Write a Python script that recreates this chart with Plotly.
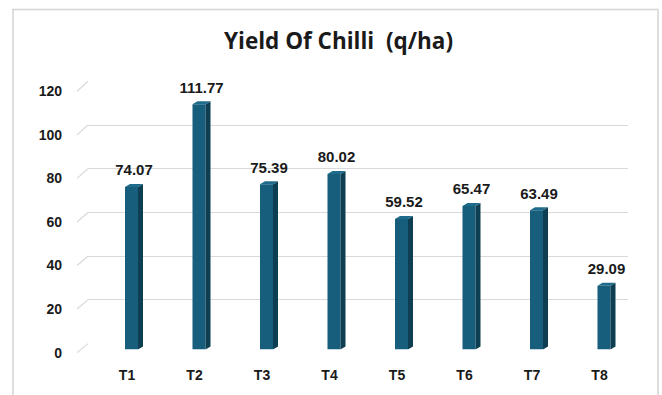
import plotly.graph_objects as go

categories = ["T1", "T2", "T3", "T4", "T5", "T6", "T7", "T8"]
yields = [74.07, 111.77, 75.39, 80.02, 59.52, 65.47, 63.49, 29.09]
y_ticks = [0, 20, 40, 60, 80, 100, 120]
title_text = "Yield Of Chilli  (q/ha)"

W, H = 662, 395
FRONT = "#175d7c"
SIDE = "#0e3e52"
TOP = "#1f6b8b"
GRID = "#d9d9d9"
TXT = "#1a1a1a"

pos = list(range(len(categories)))

x_px0, x_px1 = 88, 628
unit_px = (x_px1 - x_px0) / len(categories)
x_range = [-(127 - x_px0) / unit_px, len(categories) - (127 - x_px0) / unit_px]

# vertical layout helper: target screen pixel -> paper fraction
VS, VO = 0.962, 7.5
def py(t):
    return 1 - ((t - VO) / VS) / H

def ydom(px_zero, px_top):
    return [py(px_zero), py(px_top)]

grid_dom = ydom(344, 81)
bar_dom = ydom(350, 86)
lab_dom = ydom(353, 91)

bar_unit_px = (350 - 86) / 120
face_off = -2 / unit_px
face_w = 13 / unit_px
depth_x = 5 / unit_px
depth_y = 3 / bar_unit_px

fig = go.Figure()

fig.add_trace(go.Scatter(x=pos, y=yields, mode="markers", marker=dict(opacity=0),
                         xaxis="x", yaxis="y", showlegend=False, hoverinfo="skip"))
fig.add_trace(go.Bar(
    x=pos, y=yields, width=face_w, offset=face_off,
    marker=dict(color=FRONT, line=dict(width=0)),
    xaxis="x", yaxis="y2", showlegend=False, hoverinfo="skip",
))
fig.add_trace(go.Scatter(
    x=[p + face_off + face_w / 2 + depth_x / 2 for p in pos], y=yields,
    mode="markers+text", marker=dict(size=11, opacity=0),
    text=[f"{v:.2f}" for v in yields], textposition="top center",
    textfont=dict(family="Liberation Sans", size=15, color=TXT, weight="bold"),
    cliponaxis=False, xaxis="x", yaxis="y2", showlegend=False, hoverinfo="skip",
))
fig.add_trace(go.Scatter(x=pos, y=yields, mode="markers", marker=dict(opacity=0),
                         xaxis="x", yaxis="y3", showlegend=False, hoverinfo="skip"))

shapes = []
for c, v in zip(pos, yields):
    xr = c + face_off + face_w
    xl = c + face_off
    shapes.append(dict(type="path", xref="x", yref="y2", layer="above",
                       path=f"M {xr},0 L {xr+depth_x},{depth_y} L {xr+depth_x},{v+depth_y} L {xr},{v} Z",
                       fillcolor=SIDE, line=dict(width=0)))
    shapes.append(dict(type="path", xref="x", yref="y2", layer="above",
                       path=f"M {xl},{v} L {xl+depth_x},{v+depth_y} L {xr+depth_x},{v+depth_y} L {xr},{v} Z",
                       fillcolor=TOP, line=dict(width=0)))

def dom_y(t, dom):
    return dom[0] + (dom[1] - dom[0]) * t / 120

for t in y_ticks:
    shapes.append(dict(type="line", xref="paper", yref="paper", layer="below",
                       x0=77 / W, y0=dom_y(t, lab_dom),
                       x1=x_px0 / W, y1=dom_y(t, grid_dom),
                       line=dict(color=GRID, width=1.2)))

shapes.append(dict(type="rect", xref="paper", yref="paper",
                   x0=13 / W, x1=658 / W, y0=-0.05, y1=py(9),
                   line=dict(color="#d4d4d4", width=1.5), layer="below"))

fig.update_layout(
    width=W, height=H,
    margin=dict(l=0, r=0, t=0, b=0),
    paper_bgcolor="white", plot_bgcolor="rgba(0,0,0,0)",
    shapes=shapes,
    xaxis=dict(domain=[x_px0 / W, x_px1 / W], range=x_range, anchor="y2",
               tickvals=pos, ticktext=categories, showgrid=False, zeroline=False,
               showline=False, ticks="", ticklabelstandoff=15,
               tickfont=dict(family="Liberation Sans", size=14, color=TXT, weight="bold")),
    yaxis=dict(domain=grid_dom, range=[0, 120], anchor="x",
               tickvals=y_ticks, showgrid=True, gridcolor=GRID, gridwidth=1.2,
               zeroline=False, showticklabels=False, showline=False, ticks=""),
    yaxis2=dict(domain=bar_dom, range=[0, 120], anchor="x", showgrid=False, zeroline=False,
                showticklabels=False, showline=False, ticks=""),
    yaxis3=dict(domain=lab_dom, range=[0, 120], anchor="free", position=62 / W,
                tickvals=y_ticks, showgrid=False, zeroline=False, showline=False, ticks="",
                tickfont=dict(family="Liberation Sans", size=14, color=TXT, weight="bold")),
    annotations=[dict(text=title_text.replace("  ", " \u00a0"), xref="paper", yref="paper",
                      x=338 / W, y=py(40), xanchor="center", yanchor="middle",
                      showarrow=False,
                      font=dict(family="Open Sans", size=22.5, color=TXT, weight="bold"))],
)

fig.write_html("out.html")
